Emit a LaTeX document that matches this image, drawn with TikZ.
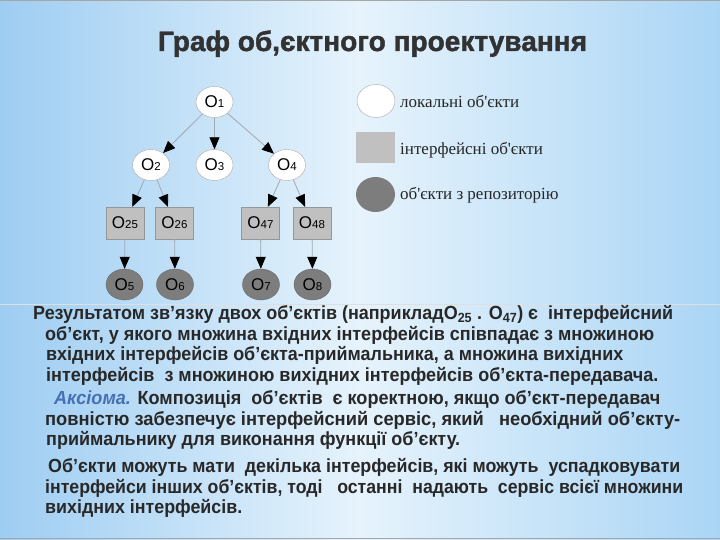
\documentclass[tikz,border=0pt]{standalone}
\usepackage{fontspec}
\usepackage{graphicx}
\setmainfont{Liberation Sans}
\newfontfamily\legfont{Liberation Serif}
\newfontfamily\titlefont{Liberation Sans Bold}[FakeBold=1.6]
\usetikzlibrary{shapes.geometric,arrows.meta}
\definecolor{bgedgeL}{RGB}{158,205,242}
\definecolor{bgedgeR}{RGB}{170,213,245}
\definecolor{bgmid}{RGB}{230,243,252}
\definecolor{edgegray}{RGB}{160,168,176}
\definecolor{ifacefill}{RGB}{192,192,192}
\definecolor{ifacedraw}{RGB}{150,150,150}
\definecolor{repofill}{RGB}{125,125,125}
\definecolor{repodraw}{RGB}{105,105,105}
\definecolor{localdraw}{RGB}{170,170,170}
\definecolor{bodytext}{RGB}{40,40,40}
\definecolor{titletext}{RGB}{50,50,50}
\definecolor{axblue}{RGB}{70,112,180}
\newcommand\objlbl[1]{O{\fontsize{11.5}{11.5}\selectfont #1}}
\newcommand\fitln[2]{\resizebox{#1pt}{\height}{#2}}
\begin{document}
\begin{tikzpicture}[x=1pt,y=-1pt,
  localobj/.style={ellipse,draw=localdraw,fill=white,minimum width=37pt,minimum height=31pt,inner sep=0pt,font=\fontsize{17}{17}\selectfont},
  ifaceobj/.style={rectangle,draw=ifacedraw,fill=ifacefill,minimum width=38pt,minimum height=32pt,inner sep=0pt,font=\fontsize{17}{17}\selectfont},
  repoobj/.style={ellipse,draw=repodraw,fill=repofill,minimum width=37pt,minimum height=31pt,inner sep=0pt,font=\fontsize{17}{17}\selectfont},
  conn/.style={draw=edgegray,line width=0.8pt,-{Triangle[length=12pt,width=10pt,color=black]}},
  legtext/.style={anchor=base west,inner sep=0pt,font=\legfont\fontsize{17}{17}\selectfont,text=black!85},
  bodyln/.style={anchor=base west,inner sep=0pt,font=\bfseries\fontsize{19}{19}\selectfont,text=bodytext}]
\useasboundingbox (0,0) rectangle (720,540);
\shade[left color=bgedgeL,right color=bgedgeR,middle color=bgmid] (0,0) rectangle (720,540);
\draw[gray!70,line width=1pt] (0,0.5) -- (720,0.5);
\draw[gray!70,line width=1pt] (0,538) -- (720,538);
\draw[white!75!gray,line width=1pt] (0,304) -- (720,304);

% title
\node[anchor=base,inner sep=0pt,text=titletext,font=\titlefont\fontsize{28}{28}\selectfont] (title) at (372.5,51) {\fitln{429}{Граф об,єктного проектування}};

% graph
\node[localobj] (o1) at (214.5,102) {\objlbl{1}};
\node[localobj] (o2) at (151,165) {\objlbl{2}};
\node[localobj] (o3) at (214.5,165) {\objlbl{3}};
\node[localobj] (o4) at (287,165) {\objlbl{4}};
\node[ifaceobj] (o25) at (125,223) {\objlbl{25}};
\node[ifaceobj] (o26) at (174.5,223) {\objlbl{26}};
\node[ifaceobj] (o47) at (260.5,223) {\objlbl{47}};
\node[ifaceobj] (o48) at (312,223) {\objlbl{48}};
\node[repoobj] (o5) at (124.5,284.5) {\objlbl{5}};
\node[repoobj] (o6) at (175,284.5) {\objlbl{6}};
\node[repoobj] (o7) at (261,284.5) {\objlbl{7}};
\node[repoobj] (o8) at (312.5,284.5) {\objlbl{8}};

\draw[conn] (o1) -- (o2);
\draw[conn] (o1) -- (o3);
\draw[conn] (o1) -- (o4);
\draw[conn] (o2) -- (o25);
\draw[conn] (o2) -- (o26);
\draw[conn] (o4) -- (o47);
\draw[conn] (o4) -- (o48);
\draw[conn] (o25) -- (o5);
\draw[conn] (o26) -- (o6);
\draw[conn] (o47) -- (o7);
\draw[conn] (o48) -- (o8);

% legend
\node[localobj,minimum width=38pt,minimum height=33pt] (lg1) at (376,101) {};
\node[ifaceobj,draw=none,minimum width=39pt,minimum height=31pt] (lg2) at (375.5,147.5) {};
\node[repoobj,draw=none,minimum width=39pt,minimum height=35pt] (lg3) at (375.5,194.5) {};
\node[legtext] (lt1) at (400,108) {локальні об'єкти};
\node[legtext] (lt2) at (400,155) {інтерфейсні об'єкти};
\node[legtext] (lt3) at (400,200) {об'єкти з репозиторію};

% body text
\node[bodyln] (t1) at (33,319) {\fitln{640}{Результатом зв’язку двох об’єктів (наприкладO\textsubscript{25} . O\textsubscript{47}) є \ інтерфейсний}};
\node[bodyln] (t2) at (45,340) {\fitln{609}{об’єкт, у якого множина вхідних інтерфейсів співпадає з множиною}};
\node[bodyln] (t3) at (46,360) {\fitln{577}{вхідних інтерфейсів об’єкта-приймальника, а множина вихідних}};
\node[bodyln] (t4) at (46,381) {\fitln{612}{інтерфейсів \ з множиною вихідних інтерфейсів об’єкта-передавача.}};
\node[bodyln] (t5) at (54,404) {\fitln{606}{{\color{axblue}\itshape Аксіома.} Композиція \ об’єктів \ є коректною, якщо об’єкт-передавач}};
\node[bodyln] (t6) at (45,425) {\fitln{635}{повністю забезпечує інтерфейсний сервіс, який \ \ необхідний об’єкту-}};
\node[bodyln] (t7) at (46,445) {\fitln{414}{приймальнику для виконання функції об’єкту.}};
\node[bodyln] (t8) at (48,472) {\fitln{632}{Об’єкти можуть мати \ декілька інтерфейсів, які можуть \ успадковувати}};
\node[bodyln] (t9) at (45,493) {\fitln{638}{інтерфейси інших об’єктів, тоді \ \ останні \ надають \ сервіс всієї множини}};
\node[bodyln] (t10) at (45,513) {\fitln{197}{вихідних інтерфейсів.}};
\end{tikzpicture}
\end{document}
